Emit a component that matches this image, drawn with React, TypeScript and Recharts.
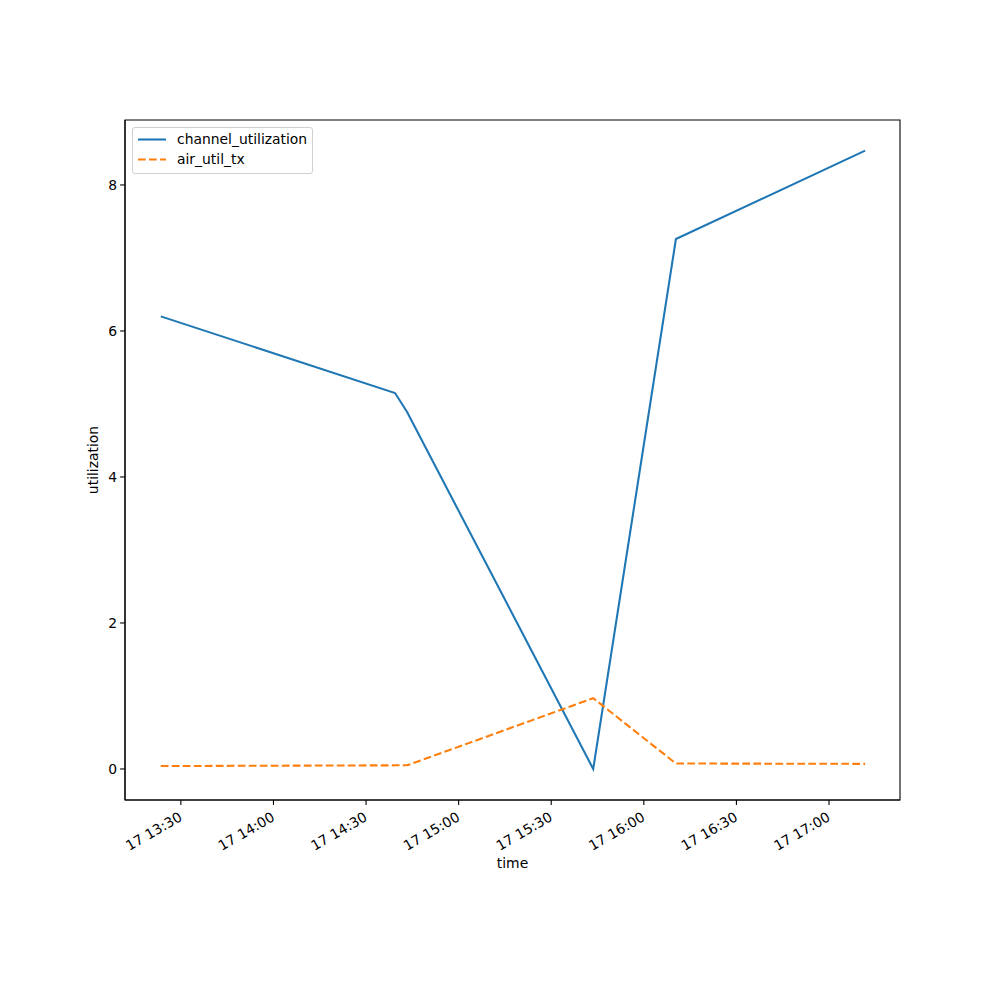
import React from 'react';
import { LineChart, Line, XAxis, YAxis, ReferenceArea } from 'recharts';

// time in minutes since midnight
const times = [803.5, 879.4, 883.3, 943.6, 970.4, 1031.7];
const channelUtilization = [6.2, 5.15, 4.89, 0.0, 7.26, 8.47];
const airUtilTx = [0.04, 0.05, 0.05, 0.97, 0.075, 0.07];
const xTicks = [810, 840, 870, 900, 930, 960, 990, 1020];
const yTicks = [0, 2, 4, 6, 8];
const xDomain = [791.9, 1043.0];
const yDomain = [-0.425, 8.89];
const seriesNames = ['channel_utilization', 'air_util_tx'];

const data = times.map((t, i) => ({ t, channel_utilization: channelUtilization[i], air_util_tx: airUtilTx[i] }));

const FONT = 'DejaVu Sans, sans-serif';
const FS = 13.9;

const fmt = (m: number) => {
  const h = Math.floor(m / 60);
  const mm = Math.round(m % 60);
  return `17 ${h}:${mm.toString().padStart(2, '0')}`;
};

const XTick = (props: any) => {
  const { x, y, payload } = props;
  const ax = x - 3;
  const ay = y + 4;
  return (
    <text x={ax} y={ay} transform={`rotate(-30, ${ax}, ${ay})`} textAnchor="end" dominantBaseline="hanging" fontFamily={FONT} fontSize={FS} fill="#000">
      {fmt(payload.value)}
    </text>
  );
};

const YTick = (props: any) => {
  const { x, y, payload } = props;
  return (
    <text x={x - 1} y={y} textAnchor="end" dominantBaseline="central" fontFamily={FONT} fontSize={FS} fill="#000">
      {payload.value}
    </text>
  );
};

const LegendBox = () => (
  <div style={{ position: 'absolute', left: 132, top: 127, width: 181, height: 47, border: '1px solid #d0d0d0', borderRadius: 3, background: 'rgba(255,255,255,0.8)', fontFamily: FONT, fontSize: FS, boxSizing: 'border-box' }}>
    <svg width={40} height={46} style={{ position: 'absolute', left: 0, top: 0 }}>
      <line x1={5} x2={33} y1={11.5} y2={11.5} stroke="#1f77b4" strokeWidth={2.08} />
      <line x1={5} x2={33} y1={31.5} y2={31.5} stroke="#ff7f0e" strokeWidth={2.08} strokeDasharray="7.7 3.3" />
    </svg>
    <div style={{ position: 'absolute', left: 44, top: 1, lineHeight: '20px', color: '#000' }}>{seriesNames[0]}</div>
    <div style={{ position: 'absolute', left: 44, top: 21, lineHeight: '20px', color: '#000' }}>{seriesNames[1]}</div>
  </div>
);

export default function App() {
  return (
    <div style={{ position: 'absolute', left: 0, top: 0, width: 1000, height: 1000, background: '#fff' }}>
      <LineChart width={1000} height={1000} data={data} margin={{ top: 120, right: 100, bottom: 140, left: 65 }}>
        <XAxis
          dataKey="t"
          type="number"
          domain={xDomain}
          ticks={xTicks}
          allowDataOverflow
          height={60}
          tick={<XTick />}
          tickSize={4.9}
          tickLine={{ stroke: '#000', strokeWidth: 1.1 }}
          axisLine={{ stroke: '#000', strokeWidth: 1.1 }}
          interval={0}
          label={(p: any) => {
            const vb = p.viewBox;
            return (
              <text x={vb.x + vb.width / 2} y={vb.y + 63} textAnchor="middle" dominantBaseline="central" fontFamily={FONT} fontSize={FS} fill="#000">time</text>
            );
          }}
        />
        <YAxis
          type="number"
          domain={yDomain}
          ticks={yTicks}
          allowDataOverflow
          width={60}
          tick={<YTick />}
          tickSize={4.9}
          tickLine={{ stroke: '#000', strokeWidth: 1.1 }}
          axisLine={{ stroke: '#000', strokeWidth: 1.1 }}
          interval={0}
          label={(p: any) => {
            const vb = p.viewBox;
            const cx = vb.x + vb.width - 32;
            const cy = vb.y + vb.height / 2;
            return (
              <text x={cx} y={cy} transform={`rotate(-90, ${cx}, ${cy})`} textAnchor="middle" dominantBaseline="central" fontFamily={FONT} fontSize={FS} fill="#000">utilization</text>
            );
          }}
        />
        <ReferenceArea x1={xDomain[0]} x2={xDomain[1]} y1={yDomain[0]} y2={yDomain[1]} fill="none" stroke="#000" strokeWidth={1.1} ifOverflow="visible" />
        <Line type="linear" dataKey="channel_utilization" name={seriesNames[0]} stroke="#1f77b4" strokeWidth={2.08} dot={false} isAnimationActive={false} />
        <Line type="linear" dataKey="air_util_tx" name={seriesNames[1]} stroke="#ff7f0e" strokeWidth={2.08} strokeDasharray="7.7 3.3" dot={false} isAnimationActive={false} />
      </LineChart>
      <LegendBox />
    </div>
  );
}
